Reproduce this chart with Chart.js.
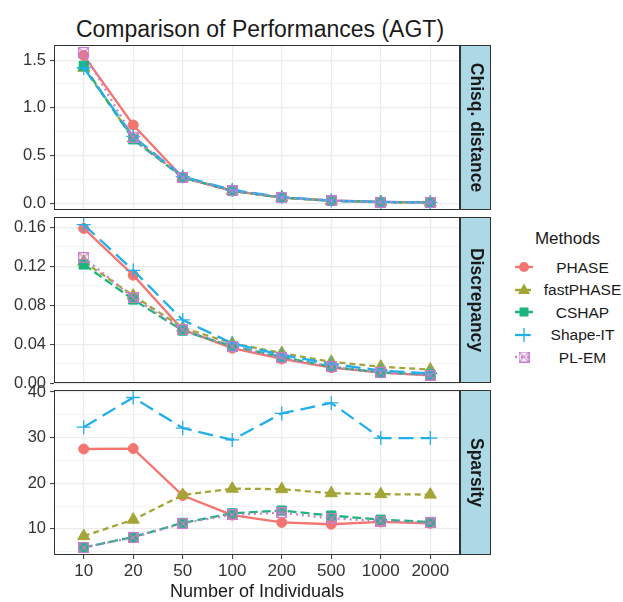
<!DOCTYPE html>
<html lang="en">
<head>
<meta charset="utf-8">
<title>Comparison of Performances (AGT)</title>
<script src="https://cdn.jsdelivr.net/npm/chart.js@4.4.1/dist/chart.umd.min.js"></script>
<style>
  body { margin: 0; background: #fff; }
  #wrap { position: relative; width: 623px; height: 602px; font-family: "Liberation Sans", Arial, sans-serif; }
  #wrap canvas.panel { position: absolute; left: 0; }
  #title { position: absolute; left: 0; width: 520px; top: 16px; text-align: center; font-size: 23px; line-height: 26px; color: #1a1a1a; }
  #legTitle { position: absolute; left: 520px; width: 95px; top: 230px; text-align: center; font-size: 17px; line-height: 17px; color: #1a1a1a; }
  .legKey { position: absolute; left: 511px; }
  .legLab { position: absolute; left: 540px; width: 85px; text-align: center; font-size: 15.5px; line-height: 15px; color: #1a1a1a; }
</style>
</head>
<body>
<div id="wrap">
  <div id="title">Comparison of Performances (AGT)</div>
  <div id="legTitle">Methods</div>
</div>

<script>
// x categories (number of individuals)
const sizes = ['10', '20', '50', '100', '200', '500', '1000', '2000'];
const methods = ['PHASE', 'fastPHASE', 'CSHAP', 'Shape-IT', 'PL-EM'];

// Chisq. distance
const chisqPHASE    = [1.55, 0.82, 0.27, 0.13, 0.060, 0.030, 0.015, 0.010];
const chisqFast     = [1.42, 0.68, 0.27, 0.13, 0.060, 0.025, 0.012, 0.008];
const chisqCSHAP    = [1.44, 0.67, 0.27, 0.13, 0.060, 0.025, 0.012, 0.008];
const chisqShapeIT  = [1.42, 0.70, 0.28, 0.14, 0.065, 0.028, 0.014, 0.009];
const chisqPLEM     = [1.58, 0.69, 0.27, 0.13, 0.060, 0.025, 0.012, 0.008];
const chisqBreaks   = [0, 0.5, 1.0, 1.5];

// Discrepancy
const discPHASE   = [0.159, 0.111, 0.055, 0.036, 0.025, 0.016, 0.011, 0.008];
const discFast    = [0.125, 0.090, 0.057, 0.041, 0.031, 0.022, 0.017, 0.014];
const discCSHAP   = [0.122, 0.086, 0.054, 0.038, 0.027, 0.017, 0.011, 0.009];
const discShapeIT = [0.163, 0.116, 0.065, 0.041, 0.029, 0.020, 0.013, 0.010];
const discPLEM    = [0.129, 0.088, 0.055, 0.038, 0.026, 0.017, 0.011, 0.008];
const discBreaks  = [0, 0.04, 0.08, 0.12, 0.16];

// Sparsity
const sparPHASE   = [27.5, 27.6, 17.3, 13.0, 11.4, 11.0, 11.5, 11.2];
const sparFast    = [8.4, 12.0, 17.4, 18.8, 18.7, 17.8, 17.6, 17.5];
const sparCSHAP   = [5.9, 8.2, 11.3, 13.4, 14.0, 12.9, 12.0, 11.5];
const sparShapeIT = [32.3, 38.8, 32.1, 29.5, 35.3, 37.6, 29.9, 29.9];
const sparPLEM    = [5.9, 8.1, 11.2, 13.1, 13.5, 12.3, 11.7, 11.3];
const sparBreaks  = [10, 20, 30, 40];

const colors = ['#F2766F', '#A3A536', '#1DB57D', '#22AEEA', '#CB7DCF'];
const dashes = [[], [6, 4], [9, 4], [15, 7], [2, 4]];

// boxed X marker for PL-EM (ggplot shape 7)
function boxX(col, s) {
  const c = document.createElement('canvas');
  c.width = s; c.height = s;
  const g = c.getContext('2d');
  g.strokeStyle = col; g.lineWidth = 1.2;
  g.strokeRect(0.6, 0.6, s - 1.2, s - 1.2);
  g.beginPath();
  g.moveTo(0.6, 0.6); g.lineTo(s - 0.6, s - 0.6);
  g.moveTo(s - 0.6, 0.6); g.lineTo(0.6, s - 0.6);
  g.stroke();
  return c;
}
const plemMark = boxX(colors[4], 11);
const pStyles = ['circle', 'triangle', 'rect', 'cross', plemMark];
const pRadius = [5, 7, 6.5, 7, 6];
const pBorder = [1, 1, 1, 1.3, 1];

const panels = [
  { strip: 'Chisq. distance', top: 45, bottom: 210, data: [chisqPHASE, chisqFast, chisqCSHAP, chisqShapeIT, chisqPLEM], breaks: chisqBreaks, dec: 1 },
  { strip: 'Discrepancy', top: 217, bottom: 383, data: [discPHASE, discFast, discCSHAP, discShapeIT, discPLEM], breaks: discBreaks, dec: 2 },
  { strip: 'Sparsity', top: 390, bottom: 555, data: [sparPHASE, sparFast, sparCSHAP, sparShapeIT, sparPLEM], breaks: sparBreaks, dec: 0 }
];

const panelDecor = {
  id: 'panelDecor',
  afterDraw(chart, args, opts) {
    const a = chart.chartArea, ctx = chart.ctx;
    ctx.save();
    ctx.strokeStyle = '#333';
    ctx.lineWidth = 1;
    ctx.strokeRect(a.left + 0.5, a.top + 0.5, a.right - a.left - 1, a.bottom - a.top - 1);
    // strip on the right
    ctx.fillStyle = '#ADD8E6';
    ctx.fillRect(a.right + 0.5, a.top + 0.5, 30, a.bottom - a.top - 1);
    ctx.strokeRect(a.right + 0.5, a.top + 0.5, 30, a.bottom - a.top - 1);
    ctx.translate(a.right + 15.5, (a.top + a.bottom) / 2);
    ctx.rotate(Math.PI / 2);
    ctx.fillStyle = '#1a1a1a';
    ctx.font = 'bold 17.5px "Liberation Sans", Arial, sans-serif';
    ctx.textAlign = 'center';
    ctx.textBaseline = 'middle';
    ctx.fillText(opts.text, 0, 0);
    ctx.restore();
  }
};

const wrap = document.getElementById('wrap');

panels.forEach((p, n) => {
  const isBottom = n === panels.length - 1;
  const all = [].concat(...p.data);
  const lo = Math.min(...all), hi = Math.max(...all), ex = (hi - lo) * 0.05;
  const yMin = lo - ex, yMax = hi + ex;
  const step = p.breaks[1] - p.breaks[0];
  const minors = [];
  for (let i = -1; i < p.breaks.length; i++) {
    const m = (i < 0 ? p.breaks[0] - step / 2 : p.breaks[i] + step / 2);
    if (m >= yMin && m <= yMax) minors.push(m);
  }
  const tickVals = p.breaks.concat(minors).sort((a, b) => a - b);
  const isMajor = v => p.breaks.some(b => Math.abs(b - v) < step * 1e-6);

  const cv = document.createElement('canvas');
  cv.className = 'panel';
  const top = p.top - 15;
  const h = (isBottom ? 602 : p.bottom + 15) - top;
  cv.width = 495; cv.height = h;
  cv.style.top = top + 'px';
  wrap.appendChild(cv);

  new Chart(cv, {
    type: 'line',
    data: {
      datasets: methods.map((m, k) => ({
        label: m,
        data: p.data[k].map((v, i) => ({ x: i, y: v })),
        borderColor: colors[k],
        backgroundColor: colors[k],
        borderWidth: 2.3,
        borderDash: dashes[k],
        pointStyle: pStyles[k],
        pointRadius: pRadius[k],
        pointBorderWidth: pBorder[k],
        pointBackgroundColor: colors[k],
        pointBorderColor: colors[k],
        order: methods.length - 1 - k,
        tension: 0
      }))
    },
    options: {
      responsive: false,
      animation: false,
      layout: { padding: { top: 15, bottom: isBottom ? 0 : 15, left: 0, right: 35 } },
      scales: {
        x: {
          type: 'linear',
          min: -0.6,
          max: sizes.length - 1 + 0.6,
          afterBuildTicks: s => { s.ticks = sizes.map((_, i) => ({ value: i })); },
          afterFit: s => { s.height = isBottom ? 47 : 0; },
          ticks: { display: isBottom, callback: v => sizes[v], font: { size: 17, family: '"Liberation Sans", Arial, sans-serif' }, color: '#333', padding: 2, autoSkip: false, maxRotation: 0 },
          grid: { color: '#EBEBEB', lineWidth: 1.2, drawTicks: isBottom, tickLength: 4, tickColor: '#333', tickWidth: 1 },
          border: { display: false },
          title: { display: isBottom, text: 'Number of Individuals', font: { size: 18, lineHeight: 1.1, family: '"Liberation Sans", Arial, sans-serif' }, color: '#1a1a1a', padding: { top: 0, bottom: 0 } }
        },
        y: {
          min: yMin,
          max: yMax,
          afterBuildTicks: s => { s.ticks = tickVals.map(v => ({ value: v })); },
          afterFit: s => { s.width = 54; },
          ticks: {
            autoSkip: false,
            callback: v => isMajor(v) ? v.toFixed(p.dec) : '',
            font: { size: 16.5, family: '"Liberation Sans", Arial, sans-serif' },
            color: '#333',
            padding: 4
          },
          grid: {
            color: '#EBEBEB',
            lineWidth: c => (c.tick && isMajor(c.tick.value)) ? 1.2 : 0.6,
            tickLength: 4,
            tickColor: c => (c.tick && isMajor(c.tick.value)) ? '#333' : 'rgba(0,0,0,0)',
            tickWidth: 1
          },
          border: { display: false }
        }
      },
      plugins: {
        legend: { display: false },
        tooltip: { enabled: false },
        panelDecor: { text: p.strip }
      }
    },
    plugins: [panelDecor]
  });
});

// legend
const rowsY = [267, 289.5, 312, 334.5, 357];
methods.forEach((m, k) => {
  const kc = document.createElement('canvas');
  kc.className = 'legKey';
  kc.width = 26; kc.height = 16;
  kc.style.top = (rowsY[k] - 8) + 'px';
  wrap.appendChild(kc);
  const g = kc.getContext('2d');
  g.strokeStyle = colors[k]; g.fillStyle = colors[k];
  g.lineWidth = 2.3;
  g.setLineDash(dashes[k]);
  g.beginPath(); g.moveTo(4, 8); g.lineTo(22, 8); g.stroke();
  g.setLineDash([]);
  const x = 13, y = 8;
  if (k === 0) { g.beginPath(); g.arc(x, y, 5, 0, Math.PI * 2); g.fill(); }
  if (k === 1) { g.beginPath(); g.moveTo(x, y - 6.5); g.lineTo(x + 6, y + 4); g.lineTo(x - 6, y + 4); g.closePath(); g.fill(); }
  if (k === 2) { g.fillRect(x - 4.5, y - 4.5, 9, 9); }
  if (k === 3) { g.lineWidth = 1.3; g.beginPath(); g.moveTo(x - 7, y); g.lineTo(x + 7, y); g.moveTo(x, y - 7); g.lineTo(x, y + 7); g.stroke(); }
  if (k === 4) { g.drawImage(plemMark, x - 5.5, y - 5.5); }

  const lab = document.createElement('div');
  lab.className = 'legLab';
  lab.textContent = m;
  lab.style.top = (rowsY[k] - 7.5) + 'px';
  wrap.appendChild(lab);
});
</script>
</body>
</html>
